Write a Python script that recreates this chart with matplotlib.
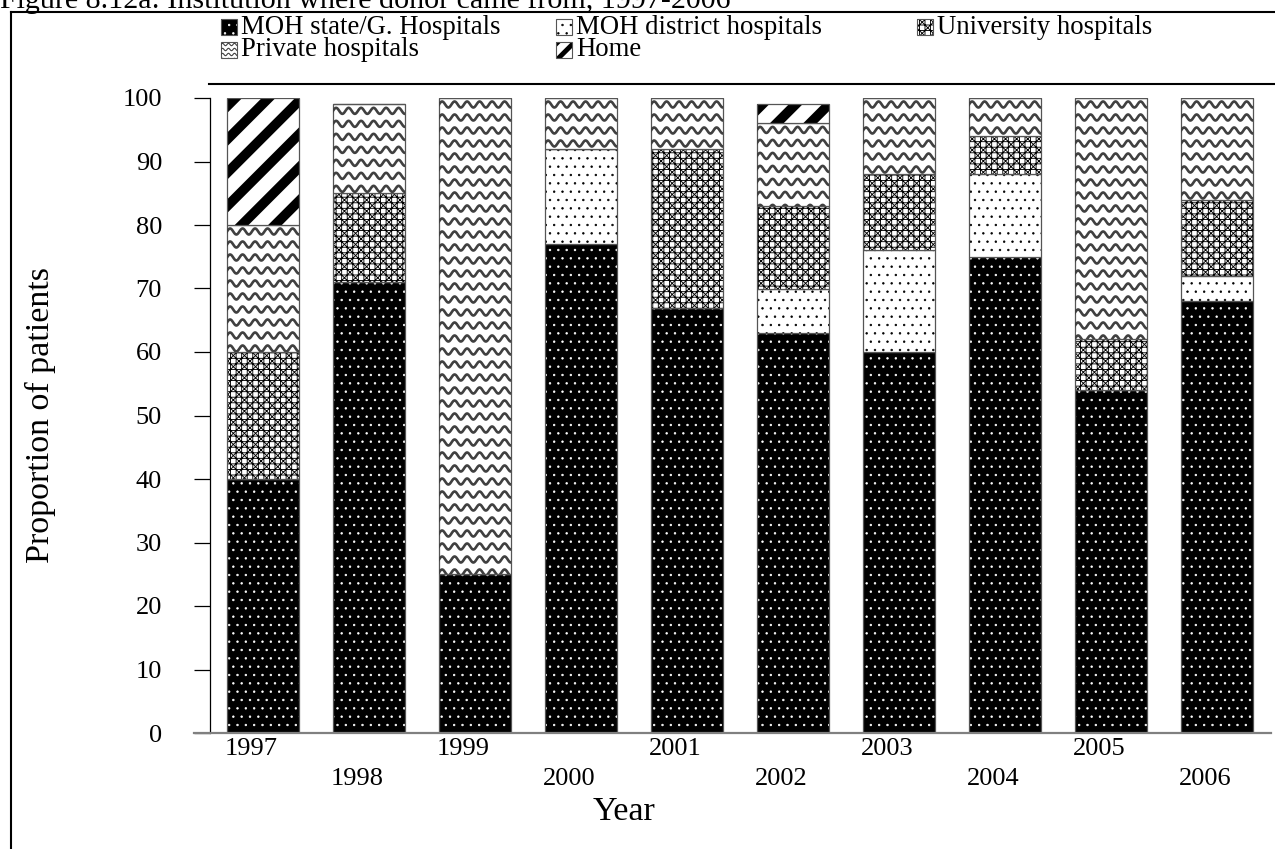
import numpy as np
import matplotlib
matplotlib.use("Agg")
import matplotlib.pyplot as plt
import matplotlib.transforms as mtransforms
from matplotlib.patches import Rectangle
from matplotlib.lines import Line2D
from matplotlib.collections import LineCollection

plt.rcParams["font.family"] = ["Liberation Serif", "DejaVu Serif"]
plt.rcParams["hatch.linewidth"] = 0.5

years = ["1997", "1998", "1999", "2000", "2001", "2002", "2003", "2004", "2005", "2006"]
moh_state = [40, 71, 25, 77, 67, 63, 60, 75, 54, 68]
moh_district = [0, 0, 0, 15, 0, 7, 16, 13, 0, 4]
university = [20, 14, 0, 0, 25, 13, 12, 6, 8, 12]
private = [20, 14, 75, 8, 8, 13, 12, 6, 38, 16]
home = [20, 0, 0, 0, 0, 3, 0, 0, 0, 0]
series_names = ["MOH state/G. Hospitals", "MOH district hospitals",
                "University hospitals", "Private hospitals", "Home"]

# face, hatch colour, hatch, hatch linewidth, wavy
styles = [
    ("black", "white", "..", 0.5, False),
    ("white", "black", "..", 0.5, False),
    ("white", "black", "+++xxx", 0.65, False),
    ("white", "white", None, 0.5, True),
    ("white", "black", "/", 7.0, False),
]
legend_hatch = ["..", "..", "+++xxx", None, "//"]
legend_hlw = [0.5, 0.5, 0.65, 0.5, 3.5]

W, H, DPI = 1275, 849, 100
fig = plt.figure(figsize=(W / DPI, H / DPI), dpi=DPI)


def fx(px):
    return px / W


def fy(py):
    return 1 - py / H


def add_waves(patch, parent, period=12.5, spacing=13.0, amp=3.0, lw=1.9):
    # wavy texture in pixel space, clipped to the patch
    bb = patch.get_window_extent()
    xs = np.arange(bb.x0 - period, bb.x1 + period, 0.5)
    segs = []
    y = bb.y1 - spacing / 2
    while y > bb.y0 - spacing:
        segs.append(np.column_stack([xs, y + amp * np.sin(2 * np.pi * (xs - bb.x0) / period)]))
        y -= spacing
    lc = LineCollection(segs, colors="#404040", linewidths=lw,
                        transform=mtransforms.IdentityTransform())
    if parent is fig:
        fig.add_artist(lc)
    else:
        parent.add_collection(lc, autolim=False)
    lc.set_clip_path(patch)


ax = fig.add_axes([fx(194), fy(733), fx(1271 - 194), (733 - 98) / H])
x = np.arange(len(years))
ax.set_xlim(-0.651, 9.509)
ax.set_ylim(0, 100)

series = [moh_state, moh_district, university, private, home]
bottom = np.zeros(len(years))
for vals, (face, hcol, hatch, hlw, wavy) in zip(series, styles):
    vals = np.array(vals, dtype=float)
    with plt.rc_context({"hatch.linewidth": hlw}):
        bars = ax.bar(x, vals, 0.68, bottom=bottom, color=face, edgecolor=hcol,
                      linewidth=0, hatch=hatch)
    for b in bars:
        if hasattr(b, "set_hatch_linewidth"):
            b.set_hatch_linewidth(hlw)
    ax.bar(x, vals, 0.68, bottom=bottom, fill=False, edgecolor="#555555", linewidth=0.9)
    if wavy:
        for b, v in zip(bars, vals):
            if v > 0:
                add_waves(b, ax)
    bottom += vals

for s in ["top", "right"]:
    ax.spines[s].set_visible(False)
ax.spines["left"].set_position(("axes", 16 / 1077))
ax.spines["left"].set_linewidth(0.9)
ax.spines["bottom"].set_color("#808080")
ax.spines["bottom"].set_linewidth(1.6)

ax.set_yticks(np.arange(0, 101, 10))
ax.tick_params(axis="y", length=11.5, width=0.9, pad=23, labelsize=19)
ax.set_xticks([])

lab_tr = mtransforms.blended_transform_factory(ax.transData, ax.transAxes) + \
    mtransforms.ScaledTranslation(-12 / DPI, 0, fig.dpi_scale_trans)
for i, yr in enumerate(years):
    yoff = -0.008 if i % 2 == 0 else -0.055
    ax.text(x[i], yoff, yr, transform=lab_tr, ha="center", va="top", fontsize=19)

fig.text(fx(624), fy(812), "Year", ha="center", va="center", fontsize=24.5)
fig.text(fx(40), fy(415), "Proportion of patients", ha="center", va="center",
         rotation=90, fontsize=24.5)

# title cut by the top edge
fig.text(0, fy(8), "Figure 8.12a: Institution where donor came from, 1997-2006",
         ha="left", va="baseline", fontsize=21.6)

# outer frame and rule under the legend
fig.add_artist(Line2D([fx(11), fx(11)], [fy(12), -0.1], color="black", linewidth=1.5))
fig.add_artist(Line2D([fx(11), 1.1], [fy(12), fy(12)], color="black", linewidth=1.5))
fig.add_artist(Line2D([fx(209), fx(1275)], [fy(84), fy(84)], color="black", linewidth=1.5))

# legend
leg_pos = [(221, 27), (556, 27), (917, 27), (221, 50), (556, 50)]
for i, (name, st, (px, py)) in enumerate(zip(series_names, styles, leg_pos)):
    face, hcol, _, _, wavy = st
    with plt.rc_context({"hatch.linewidth": legend_hlw[i]}):
        r = Rectangle((fx(px), fy(py + 8)), fx(16), 16 / H, transform=fig.transFigure,
                      facecolor=face, edgecolor=hcol, linewidth=0, hatch=legend_hatch[i])
    if hasattr(r, "set_hatch_linewidth"):
        r.set_hatch_linewidth(legend_hlw[i])
    fig.add_artist(r)
    fig.add_artist(Rectangle((fx(px), fy(py + 8)), fx(16), 16 / H, transform=fig.transFigure,
                             fill=False, edgecolor="#555555", linewidth=0.8))
    if wavy:
        add_waves(r, fig, period=6, spacing=5, amp=1.2, lw=0.8)
    fig.text(fx(px + 20), fy(py), name, ha="left", va="center", fontsize=19.3)

fig.savefig("out.png", dpi=DPI)
